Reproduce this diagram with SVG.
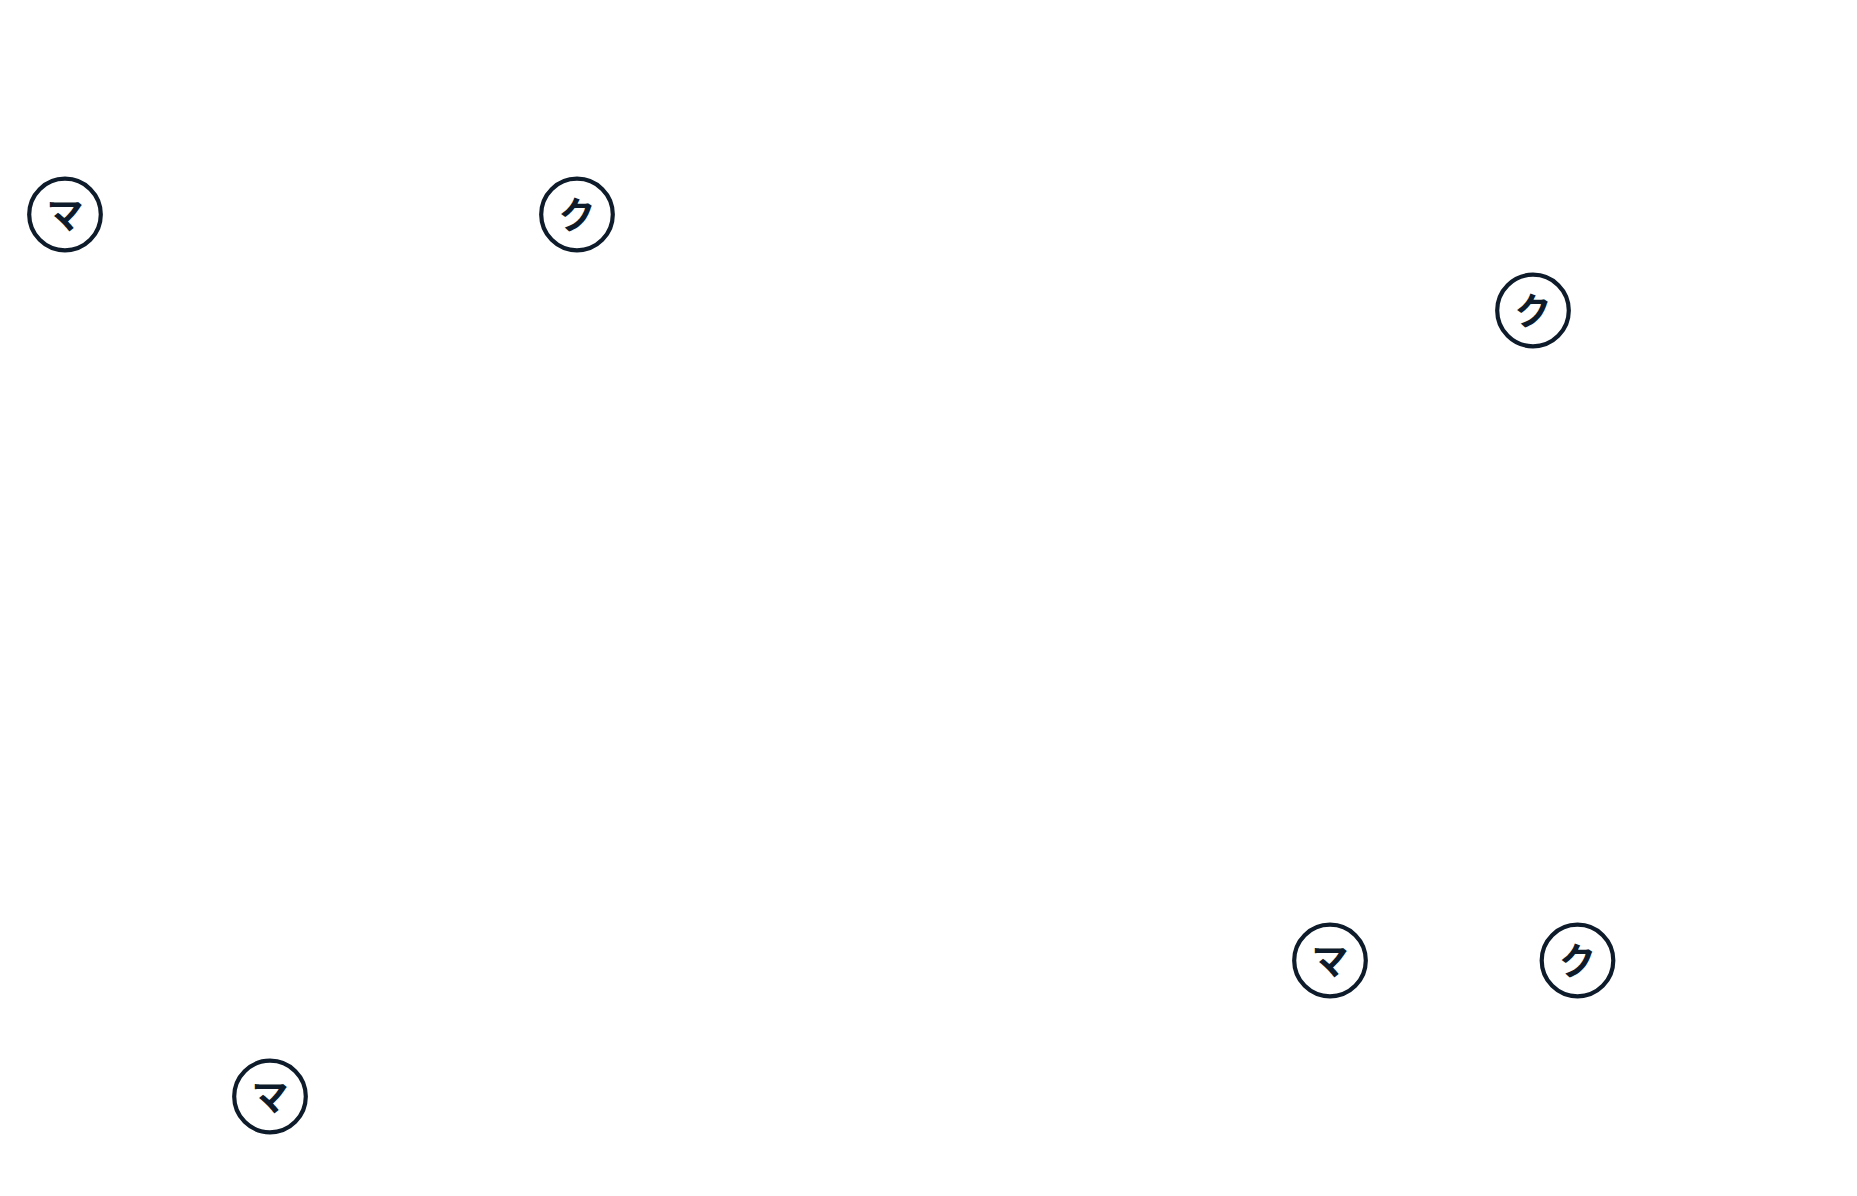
<svg xmlns="http://www.w3.org/2000/svg" width="1857" height="1196" viewBox="0 0 1857 1196">
<style>
.n circle{fill:#ffffff;stroke:#0d1b2a;stroke-width:4.2}
.n text{font-family:"Noto Sans CJK JP","Noto Sans",sans-serif;font-weight:700;font-size:37px;fill:#0d1b2a;text-anchor:middle;dominant-baseline:central}
</style>
<rect width="1857" height="1196" fill="#ffffff"/>
<g id="connectors"></g>
<g id="node1" class="n"><circle cx="65" cy="214.5" r="35.8"/><text x="65" y="212.5">マ</text></g>
<g id="node2" class="n"><circle cx="577" cy="214.5" r="35.8"/><text x="577" y="212.5">ク</text></g>
<g id="node3" class="n"><circle cx="1533" cy="310.5" r="35.8"/><text x="1533" y="308.5">ク</text></g>
<g id="node4" class="n"><circle cx="1330" cy="960.5" r="35.8"/><text x="1330" y="958.5">マ</text></g>
<g id="node5" class="n"><circle cx="1577.5" cy="960.5" r="35.8"/><text x="1577.5" y="958.5">ク</text></g>
<g id="node6" class="n"><circle cx="270" cy="1096.5" r="35.8"/><text x="270" y="1094.5">マ</text></g>
</svg>
